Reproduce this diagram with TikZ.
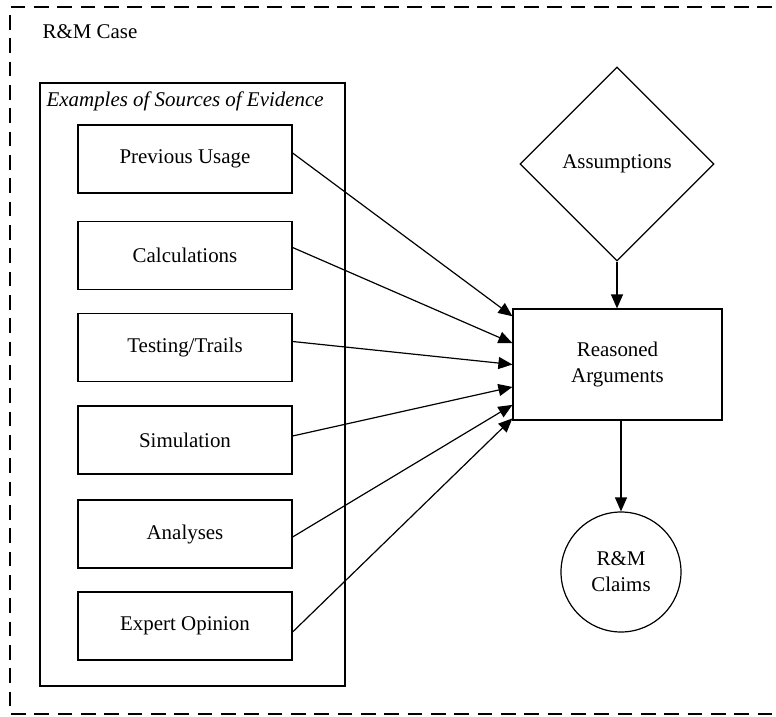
\documentclass[tikz,border=0pt]{standalone}
\usepackage{fontspec}
\setmainfont{Liberation Serif}
\usetikzlibrary{arrows.meta,shapes.geometric,calc}
\begin{document}
\begin{tikzpicture}[x=0.75pt,y=-0.75pt,
  font=\fontsize{15.7}{19.5}\selectfont,
  line width=0.9pt,
  >={Triangle[length=10.5pt,width=9pt]},
  srcbox/.style={draw, minimum width=160.5pt, minimum height=51pt, inner sep=0pt},
  caseline/.style={dash pattern=on 11pt off 6.5pt}]
\useasboundingbox (0,0) rectangle (776,717);
% outer dashed frame
\draw[caseline] (772,7) -- (10,7) -- (10,714) -- (772,714);
\node[anchor=west, inner sep=0pt] (case) at (42,32) {R\&M Case};
% evidence box
\node[draw, minimum width=228.75pt, minimum height=452.25pt, inner sep=0pt] (ev) at (192.5,384.5) {};
\node[anchor=base west, inner sep=0pt, font=\fontsize{15.7}{19.5}\selectfont\itshape] (evt) at (46,107) {Examples of Sources of Evidence};
% sources
\node[srcbox] (pu) at (185,159) {Previous Usage};
\node[srcbox] (ca) at (185,255.5) {Calculations};
\node[srcbox] (tt) at (185,347.5) {Testing/Trails};
\node[srcbox] (si) at (185,440) {Simulation};
\node[srcbox] (an) at (185,534) {Analyses};
\node[srcbox] (eo) at (185,626) {Expert Opinion};
% right side
\node[draw, diamond, aspect=1, minimum width=145.5pt, minimum height=145.5pt, inner sep=0pt] (as) at (617,164) {Assumptions};
\node[draw, minimum width=156.75pt, minimum height=83.25pt, inner sep=0pt, align=center] (ra) at (617.5,364.5) {Reasoned\\Arguments};
\node[draw, circle, minimum size=90pt, inner sep=0pt, align=center] (cl) at (621,572) {R\&M\\Claims};
% connectors
\draw[->] (as.south) -- (as.south |- ra.north);
\draw[->] (ra.south -| cl.north) -- (cl.north);
\draw[->] ([yshift=4.5pt]pu.east) -- ($(ra.north west)!0.07!(ra.south west)$);
\draw[->] ([yshift=6pt]ca.east) -- ($(ra.north west)!0.31!(ra.south west)$);
\draw[->] ([yshift=4.5pt]tt.east) -- ($(ra.north west)!0.5!(ra.south west)$);
\draw[->] ([yshift=3pt]si.east) -- ($(ra.north west)!0.70!(ra.south west)$);
\draw[->] ([yshift=-2.25pt]an.east) -- ($(ra.north west)!0.86!(ra.south west)$);
\draw[->] ([yshift=-4.5pt]eo.east) -- ($(ra.north west)!0.98!(ra.south west)$);
\end{tikzpicture}
\end{document}
